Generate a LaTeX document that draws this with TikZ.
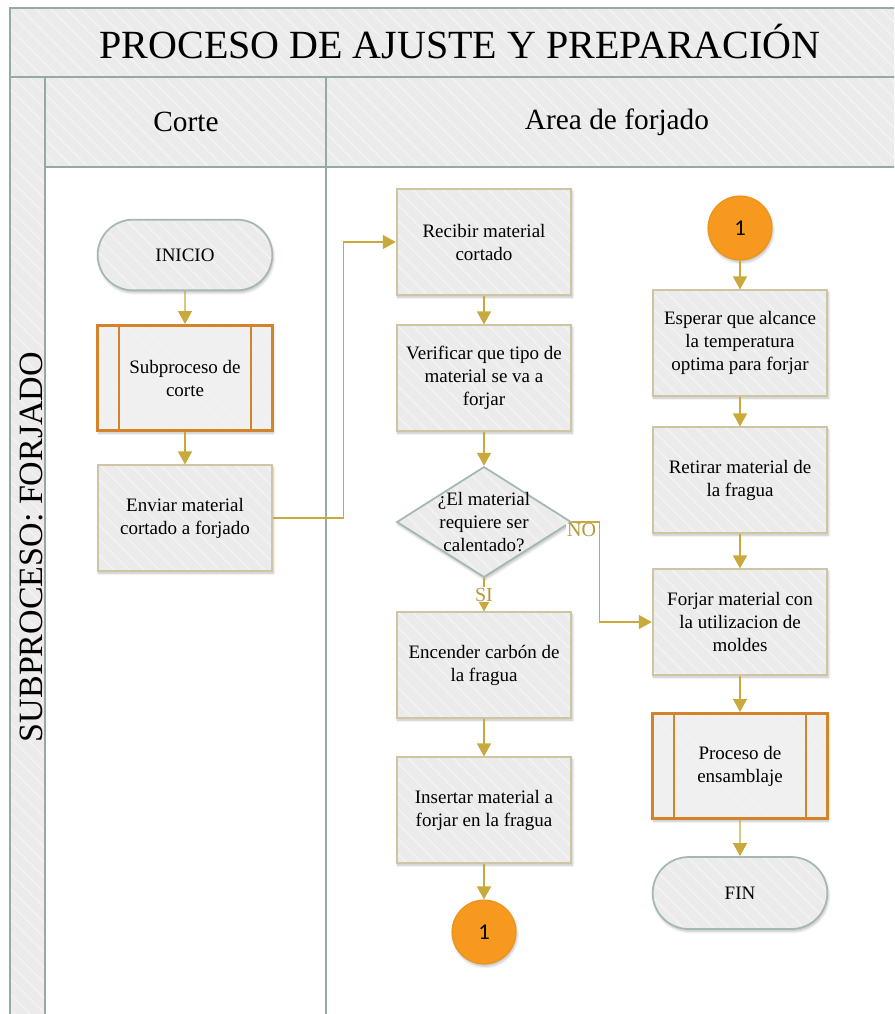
\documentclass[tikz,border=0pt]{standalone}
\usepackage{fontspec}
\setmainfont{Liberation Serif}
\newfontfamily\numfont{Carlito}
\usepackage{tikz}
\usetikzlibrary{arrows.meta, positioning, shapes, calc, patterns.meta, shadows.blur}

\definecolor{lanegreen}{HTML}{93ABA3}
\definecolor{lanefill}{HTML}{EBEBEB}
\definecolor{subfill}{HTML}{F0F0F0}
\definecolor{stripe}{HTML}{F2F2F2}
\definecolor{boxtan}{HTML}{CFC5A3}
\definecolor{termgreen}{HTML}{A3B8B0}
\definecolor{suborange}{HTML}{D5832A}
\definecolor{flowgold}{HTML}{C9A93B}
\definecolor{labelgold}{HTML}{B39A3E}
\definecolor{connorange}{HTML}{F7991F}
\definecolor{connedge}{HTML}{E8921E}

\begin{document}
\begin{tikzpicture}[x=0.75pt, y=-0.75pt,
    stripedfill/.style={preaction={fill=#1},
      preaction={pattern={Lines[angle=-45, distance=8pt, line width=1.3pt]}, pattern color=stripe}},
    shade/.style={blur shadow={shadow xshift=0.8pt, shadow yshift=-1.8pt,
      shadow opacity=25, shadow blur steps=5}},
    txt/.style={font=\fontsize{14.25}{17.25}\selectfont, align=center},
    task/.style={txt, shade, stripedfill=lanefill, draw=boxtan, line width=1.3pt,
      minimum width=131pt, minimum height=79pt, inner sep=0pt},
    term/.style={txt, shade, stripedfill=lanefill, rounded rectangle, draw=termgreen,
      line width=1.3pt, minimum width=131pt, minimum height=53pt, inner sep=0pt},
    subproc/.style={txt, shade, stripedfill=subfill, draw=suborange, line width=2pt,
      minimum width=131pt, minimum height=79pt, inner sep=0pt,
      path picture={\draw[suborange, line width=2pt]
        ([xshift=16pt]path picture bounding box.north west) -- ([xshift=16pt]path picture bounding box.south west)
        ([xshift=-16pt]path picture bounding box.north east) -- ([xshift=-16pt]path picture bounding box.south east);}},
    decision/.style={diamond, shade, stripedfill=lanefill, draw=termgreen, line width=1.3pt,
      minimum width=131pt, minimum height=83pt, inner sep=0pt},
    conn/.style={circle, shade, fill=connorange, draw=connedge, line width=0.8pt,
      minimum size=48pt, font=\numfont\fontsize{17}{19}\selectfont},
    flow/.style={draw=flowgold, line width=1pt, -{Triangle[length=9.75pt, width=10.5pt]}},
    lbl/.style={font=\fontsize{15}{17}\selectfont, text=labelgold, fill=white, inner sep=0.5pt},
    lane/.style={draw=lanegreen, line width=1.5pt}]
  \useasboundingbox (0,0) rectangle (894,1014);
  \clip (0,0) rectangle (894,1014);

  % Pool: title band, lane headers and lane label column
  \path[stripedfill=lanefill] (10,8) rectangle (910,167);
  \path[stripedfill=lanefill] (10,167) rectangle (45,1020);
  \draw[lane] (10,1020) -- (10,8) -- (910,8);
  \draw[lane] (10,77) -- (910,77);
  \draw[lane] (45,77) -- (45,1020);
  \draw[lane] (45,167) -- (910,167);
  \draw[lane] (326,77) -- (326,1020);
  \node[font=\fontsize{30}{34}\selectfont] (title) at (460,42) {PROCESO DE AJUSTE Y PREPARACIÓN};
  \node[font=\fontsize{22}{26}\selectfont] (corte) at (186,122) {Corte};
  \node[font=\fontsize{22}{26}\selectfont] (forjado) at (617,122) {Area de forjado};
  \node[font=\fontsize{25.5}{28}\selectfont, rotate=90] (pool) at (31,547) {SUBPROCESO: FORJADO};

  % Lane 1: Corte
  \node[term] (inicio) at (185,255) {INICIO};
  \node[subproc] (subcorte) at (185,378) {Subproceso de\\corte};
  \node[task] (enviar) at (185,518) {Enviar material\\cortado a forjado};

  % Lane 2: Area de forjado, first column
  \node[task] (recibir) at (484,242) {Recibir material\\cortado};
  \node[task] (verificar) at (484,378) {Verificar que tipo de\\material se va a\\forjar};
  \node[decision, label={[txt]center:{¿El material\\requiere ser\\calentado?}}] (calentar) at (484,522) {};
  \node[task] (encender) at (484,665) {Encender carbón de\\la fragua};
  \node[task] (insertar) at (484,810) {Insertar material a\\forjar en la fragua};
  \node[conn] (salto) at (484,932) {1};

  % Lane 2: second column
  \node[conn] (retorno) at (740,228) {1};
  \node[task] (esperar) at (740,343) {Esperar que alcance\\la temperatura\\optima para forjar};
  \node[task] (retirar) at (740,480) {Retirar material de\\la fragua};
  \node[task] (forjar) at (740,622) {Forjar material con\\la utilizacion de\\moldes};
  \node[subproc] (ensamblaje) at (740,766) {Proceso de\\ensamblaje};
  \node[term, minimum height=54pt] (fin) at (740,893) {FIN};

  % Flow
  \draw[flow] (inicio) -- (subcorte);
  \draw[flow] (subcorte) -- (enviar);
  \draw[flow] (enviar.east) -- ++(70,0) |- (recibir.west);
  \draw[flow] (recibir) -- (verificar);
  \draw[flow] (verificar) -- (calentar);
  \draw[flow] (calentar) -- node[lbl] (si) {SI} (encender);
  \draw[flow] (calentar.east) -- ++(27,0) |- (forjar.west);
  \node[lbl, anchor=north west] (no) at ([xshift=-4.5pt, yshift=-0.6pt]calentar.east) {NO};
  \draw[flow] (encender) -- (insertar);
  \draw[flow] (insertar) -- (salto);
  \draw[flow] (retorno) -- (esperar);
  \draw[flow] (esperar) -- (retirar);
  \draw[flow] (retirar) -- (forjar);
  \draw[flow] (forjar) -- (ensamblaje);
  \draw[flow] (ensamblaje) -- (fin);
\end{tikzpicture}
\end{document}
